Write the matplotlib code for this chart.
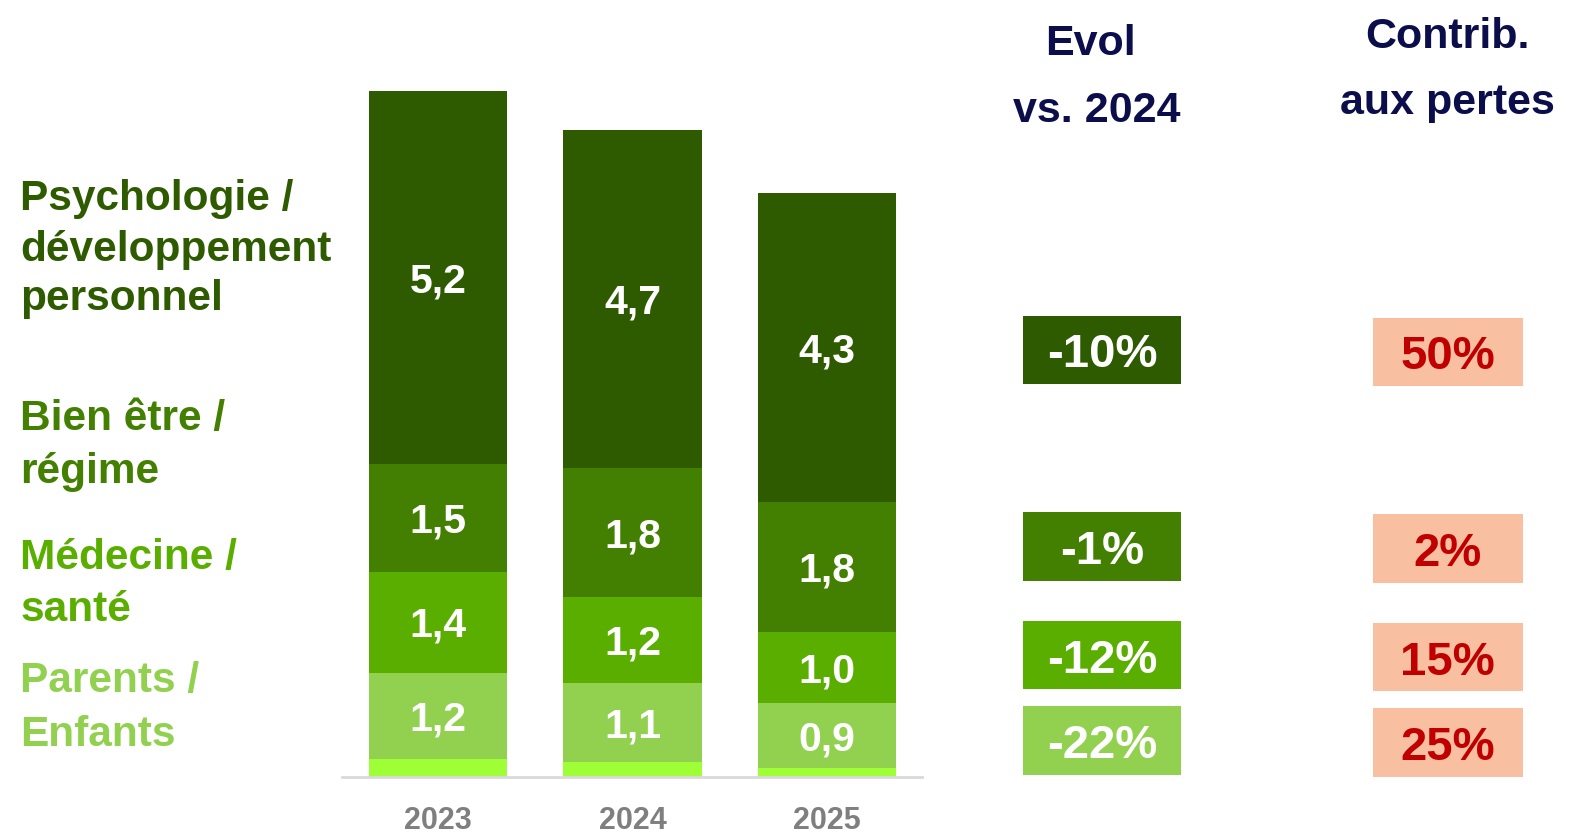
import matplotlib
matplotlib.use('Agg')
import matplotlib.pyplot as plt
from matplotlib.patches import Rectangle

plt.rcParams['font.family'] = ['Liberation Sans', 'DejaVu Sans']
plt.rcParams['font.weight'] = 'bold'

# data
years = ['2023', '2024', '2025']
autres = [0.25, 0.2, 0.12]
parents = [1.2, 1.1, 0.9]
medecine = [1.4, 1.2, 1.0]
bien_etre = [1.5, 1.8, 1.8]
psycho = [5.2, 4.7, 4.3]
series = [autres, parents, medecine, bien_etre, psycho]
colors = ['#9EFF37', '#92D050', '#5AAE00', '#437F00', '#2E5A00']

cat_lines = [
    ['Psychologie /', 'développement', 'personnel'],
    ['Bien être /', 'régime'],
    ['Médecine /', 'santé'],
    ['Parents /', 'Enfants'],
]
cat_colors = ['#2E5A00', '#437F00', '#5AAE00', '#92D050']

evol = ['-10%', '-1%', '-12%', '-22%']
contrib = ['50%', '2%', '15%', '25%']

# layout grid (measured on a 1568x832 view)
W, H = 1568, 832
fig = plt.figure(figsize=(15.75, 8.36), dpi=100)


def fx(x):
    return x / W


def fy(y):
    return 1 - y / H


# stacked bars
ax = fig.add_axes([fx(340), fy(773), (918 - 340) / W, (773 - 60) / H])
x = range(len(years))
bottom = [0, 0, 0]
for i, vals in enumerate(series):
    ax.bar(x, vals, bottom=bottom, width=0.711, color=colors[i], linewidth=0)
    if i > 0:
        for j, v in enumerate(vals):
            ax.annotate(f'{v:.1f}'.replace('.', ','), (j, bottom[j] + v / 2),
                        xytext=(0, -10.6), textcoords='offset points',
                        ha='center', va='baseline', color='white', fontsize=29.5,
                        fontweight='bold')
    bottom = [b + v for b, v in zip(bottom, vals)]

ax.set_xlim(-0.495, 2.487)
ax.set_ylim(0, 713 / 71.5)
for s in ax.spines.values():
    s.set_visible(False)
ax.axhline(0, color='#D9D9D9', lw=2, clip_on=False)
ax.set_yticks([])
ax.set_xticks(list(x))
ax.set_xticklabels(years, fontsize=22, color='#7F7F7F', fontweight='bold')
ax.tick_params(axis='x', length=0, pad=21)

# overlay in view pixels for left labels and right-hand table
ov = fig.add_axes([0, 0, 1, 1])
ov.set_xlim(0, W)
ov.set_ylim(H, 0)
ov.axis('off')
ov.patch.set_alpha(0)

baselines = [[209, 260, 309], [428, 481], [566, 618], [689, 742]]
for lines, ys, c in zip(cat_lines, baselines, cat_colors):
    for line, y in zip(lines, ys):
        ov.text(20, y, line, ha='left', va='baseline',
                fontsize=30.5, color=c, fontweight='bold')

navy = '#0B0E4A'
ov.text(1086, 55, 'Evol', ha='center', va='baseline', fontsize=31, color=navy)
ov.text(1092, 121, 'vs. 2024', ha='center', va='baseline', fontsize=31, color=navy)
ov.text(1441, 48, 'Contrib.', ha='center', va='baseline', fontsize=31, color=navy)
ov.text(1441, 113, 'aux pertes', ha='center', va='baseline', fontsize=31, color=navy)

row_tops = [314, 510, 618, 703]
for top, ev, ct, bc in zip(row_tops, evol, contrib, cat_colors):
    ov.add_patch(Rectangle((1018, top), 158, 68, facecolor=bc, edgecolor='none'))
    ov.text(1097, top + 34 + 17.5, ev, ha='center', va='baseline', fontsize=34, color='white')
    ov.add_patch(Rectangle((1367, top + 2), 149, 68, facecolor='#F8BFA0', edgecolor='none'))
    ov.text(1441, top + 36 + 17.5, ct, ha='center', va='baseline', fontsize=34, color='#C00000')

fig.savefig('out.png', dpi=100)
